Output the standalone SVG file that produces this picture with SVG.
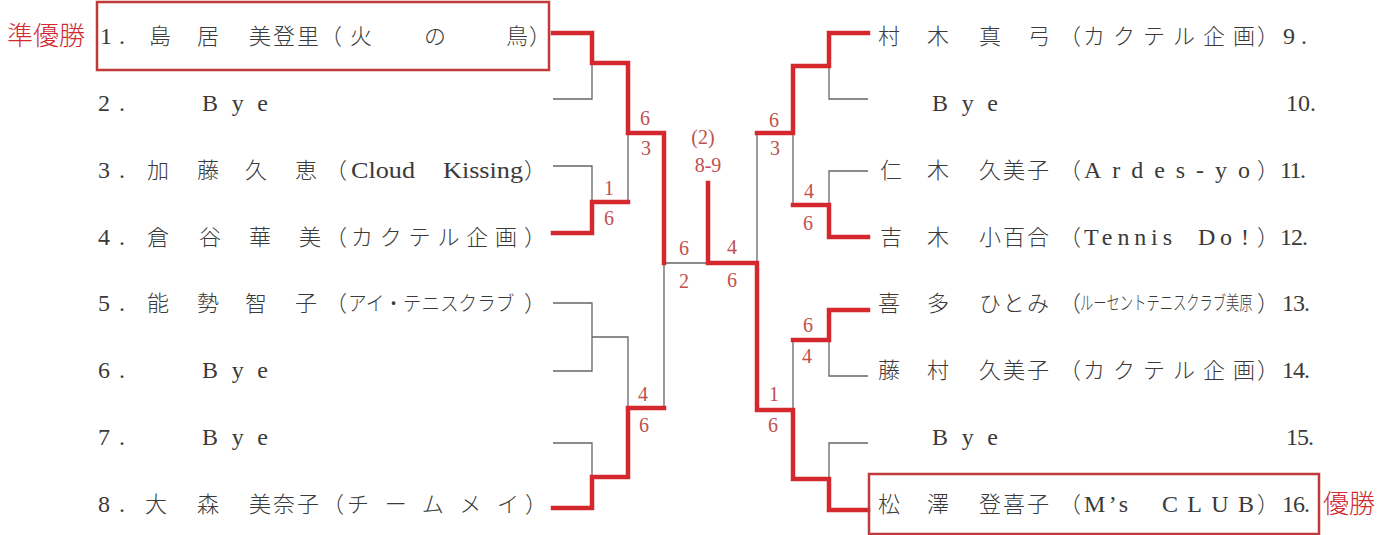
<svg xmlns="http://www.w3.org/2000/svg" width="1394" height="535" viewBox="0 0 1394 535">
<style>
.t{font-family:"Liberation Serif","Noto Sans CJK JP",serif;font-size:23px;fill:#333}
.j{font-family:"Noto Sans CJK JP","Liberation Serif",serif;font-size:22px;fill:#3a3a3a;font-weight:300}
.l{font-family:"Liberation Serif","Noto Sans CJK JP",serif;font-size:24px;fill:#3a3a3a}
.s{font-family:"Liberation Serif",serif;font-size:20px;fill:#c0504d;text-anchor:middle}
.lab{font-family:"Noto Sans CJK JP",serif;font-size:26px;fill:#d02a32;font-weight:300}
.g{fill:none;stroke:#666;stroke-width:1.3}
.r{fill:none;stroke:#d4282e;stroke-width:4.5;stroke-linejoin:miter;stroke-linecap:square}
.box{fill:none;stroke:#c0393b;stroke-width:2.5}
</style>
<rect width="1394" height="535" fill="#fff"/>

<g id="connectors">
<path class="g" d="M553,99 H592 V63"/>
<path class="g" d="M553,166 H592 V202"/>
<path class="g" d="M553,303 H592 V371 H553 M592,337 H628 V408"/>
<path class="g" d="M553,443 H592 V477"/>
<path class="g" d="M628,133 V202"/>
<path class="g" d="M664,408 V263 H708"/>
<path class="g" d="M757,133 V263"/>
<path class="g" d="M868,99 H829 V66"/>
<path class="g" d="M793,133 V205"/>
<path class="g" d="M868,171 H829 V205"/>
<path class="g" d="M868,376 H829 V340"/>
<path class="g" d="M793,340 V410"/>
<path class="g" d="M868,443 H829 V479"/>
<path class="r" d="M553,33 H592 V63 H628 V133 H664 V263"/>
<path class="r" d="M553,233 H592 V202 H628"/>
<path class="r" d="M553,508 H592 V477 H628 V408 H664"/>
<path class="r" d="M708,183 V263 H757 V410 H793 V479 H829 V510 H868"/>
<path class="r" d="M757,133 H793 V66 H829 V33 H868"/>
<path class="r" d="M793,205 H829 V237 H868"/>
<path class="r" d="M793,340 H829 V310 H868"/>
</g>

<g id="scores">
<text class="s" x="645" y="125">6</text><text class="s" x="646" y="155">3</text>
<text class="s" x="609" y="195">1</text><text class="s" x="609" y="225">6</text>
<text class="s" x="643" y="401">4</text><text class="s" x="644" y="432">6</text>
<text class="s" x="684" y="255">6</text><text class="s" x="684" y="288">2</text>
<text class="s" x="732" y="254">4</text><text class="s" x="732" y="287">6</text>
<text class="s" x="703" y="144">(2)</text><text class="s" x="708" y="172">8-9</text>
<text class="s" x="774" y="127">6</text><text class="s" x="775" y="155">3</text>
<text class="s" x="809" y="198">4</text><text class="s" x="808" y="230">6</text>
<text class="s" x="808" y="332">6</text><text class="s" x="807" y="363">4</text>
<text class="s" x="774" y="401">1</text><text class="s" x="773" y="432">6</text>
</g>

<g id="p1">
<rect class="box" x="97" y="2" width="452" height="68"/>
<text class="lab" x="7" y="45">準優勝</text>
<text class="l" x="100" y="44" textLength="25" lengthAdjust="spacing">1.</text>
<text class="j" x="149" y="44">島</text><text class="j" x="197" y="44">居</text>
<text class="j" x="249" y="44" textLength="70" lengthAdjust="spacing">美登里</text>
<text class="j" x="320" y="44">（</text><text class="j" x="350" y="44">火</text>
<text class="j" x="424" y="44">の</text><text class="j" x="506" y="44">鳥</text>
<text class="j" x="529" y="44">）</text>
</g>
<g id="p2">
<text class="l" x="98" y="111" textLength="27" lengthAdjust="spacing">2.</text>
<text class="l" x="202" y="111" textLength="66" lengthAdjust="spacing">Bye</text>
</g>
<g id="p3">
<text class="l" x="98" y="178" textLength="27" lengthAdjust="spacing">3.</text>
<text class="j" x="147" y="178">加</text><text class="j" x="197" y="178">藤</text>
<text class="j" x="245" y="178">久</text><text class="j" x="295" y="178">恵</text>
<text class="j" x="325" y="178">（</text>
<text class="l" x="351" y="178" textLength="64" lengthAdjust="spacingAndGlyphs">Cloud</text>
<text class="l" x="443" y="178" textLength="80" lengthAdjust="spacingAndGlyphs">Kissing</text>
<text class="j" x="524" y="178">）</text>
</g>
<g id="p4">
<text class="l" x="98" y="245" textLength="27" lengthAdjust="spacing">4.</text>
<text class="j" x="147" y="245">倉</text><text class="j" x="199" y="245">谷</text>
<text class="j" x="249" y="245">華</text><text class="j" x="299" y="245">美</text>
<text class="j" x="325" y="245">（</text>
<text class="j" x="351" y="245" textLength="166" lengthAdjust="spacing">カクテル企画</text>
<text class="j" x="524" y="245">）</text>
</g>
<g id="p5">
<text class="l" x="98" y="311" textLength="27" lengthAdjust="spacing">5.</text>
<text class="j" x="147" y="311">能</text><text class="j" x="197" y="311">勢</text>
<text class="j" x="245" y="311">智</text><text class="j" x="295" y="311">子</text>
<text class="j" x="325" y="311">（</text>
<text class="j" transform="translate(348,311) scale(0.93,1)" style="font-size:20px">アイ・テニスクラブ</text>
<text class="j" x="524" y="311">）</text>
</g>
<g id="p6">
<text class="l" x="98" y="378" textLength="27" lengthAdjust="spacing">6.</text>
<text class="l" x="202" y="378" textLength="66" lengthAdjust="spacing">Bye</text>
</g>
<g id="p7">
<text class="l" x="98" y="445" textLength="27" lengthAdjust="spacing">7.</text>
<text class="l" x="202" y="445" textLength="66" lengthAdjust="spacing">Bye</text>
</g>
<g id="p8">
<text class="l" x="98" y="512" textLength="27" lengthAdjust="spacing">8.</text>
<text class="j" x="145" y="512">大</text><text class="j" x="197" y="512">森</text>
<text class="j" x="249" y="512" textLength="70" lengthAdjust="spacing">美奈子</text>
<text class="j" x="322" y="512">（</text>
<text class="j" x="347" y="512" textLength="172" lengthAdjust="spacing">チームメイ</text>
<text class="j" x="525" y="512">）</text>
</g>

<g id="p9">
<text class="j" x="878" y="44">村</text><text class="j" x="927" y="44">木</text>
<text class="j" x="979" y="44">真</text><text class="j" x="1028" y="44">弓</text>
<text class="j" x="1059" y="44">（</text>
<text class="j" x="1083" y="44" textLength="172" lengthAdjust="spacing">カクテル企画</text>
<text class="j" x="1257" y="44">）</text>
<text class="l" x="1283" y="44" textLength="24" lengthAdjust="spacing">9.</text>
</g>
<g id="p10">
<text class="l" x="932" y="111" textLength="66" lengthAdjust="spacing">Bye</text>
<text class="l" x="1286" y="111" textLength="30" lengthAdjust="spacing">10.</text>
</g>
<g id="p11">
<text class="j" x="880" y="178">仁</text><text class="j" x="927" y="178">木</text>
<text class="j" x="979" y="178" textLength="70" lengthAdjust="spacing">久美子</text>
<text class="j" x="1059" y="178">（</text>
<text class="l" x="1084" y="178" textLength="166" lengthAdjust="spacing">Ardes-yo</text>
<text class="j" x="1257" y="178">）</text>
<text class="l" x="1280" y="178" textLength="26" lengthAdjust="spacing">11.</text>
</g>
<g id="p12">
<text class="j" x="880" y="245">吉</text><text class="j" x="927" y="245">木</text>
<text class="j" x="979" y="245" textLength="70" lengthAdjust="spacing">小百合</text>
<text class="j" x="1059" y="245">（</text>
<text class="l" x="1084" y="245" textLength="88" lengthAdjust="spacing">Tennis</text>
<text class="l" x="1198" y="245" textLength="34" lengthAdjust="spacing">Do</text>
<text class="l" x="1241" y="245">!</text>
<text class="j" x="1257" y="245">）</text>
<text class="l" x="1280" y="245" textLength="28" lengthAdjust="spacing">12.</text>
</g>
<g id="p13">
<text class="j" x="878" y="311">喜</text><text class="j" x="927" y="311">多</text>
<text class="j" x="979" y="311" textLength="70" lengthAdjust="spacing">ひとみ</text>
<text class="j" x="1059" y="311">（</text>
<text class="j" transform="translate(1080,310) scale(0.7,1)" style="font-size:19px">ルーセントテニスクラブ美原</text>
<text class="j" x="1257" y="311">）</text>
<text class="l" x="1282" y="311" textLength="28" lengthAdjust="spacing">13.</text>
</g>
<g id="p14">
<text class="j" x="878" y="378">藤</text><text class="j" x="927" y="378">村</text>
<text class="j" x="979" y="378" textLength="70" lengthAdjust="spacing">久美子</text>
<text class="j" x="1059" y="378">（</text>
<text class="j" x="1083" y="378" textLength="172" lengthAdjust="spacing">カクテル企画</text>
<text class="j" x="1257" y="378">）</text>
<text class="l" x="1282" y="378" textLength="28" lengthAdjust="spacing">14.</text>
</g>
<g id="p15">
<text class="l" x="932" y="445" textLength="66" lengthAdjust="spacing">Bye</text>
<text class="l" x="1286" y="445" textLength="28" lengthAdjust="spacing">15.</text>
</g>
<g id="p16">
<rect class="box" x="869" y="474" width="450" height="60"/>
<text class="lab" x="1323" y="513">優勝</text>
<text class="j" x="878" y="512">松</text><text class="j" x="927" y="512">澤</text>
<text class="j" x="979" y="512" textLength="70" lengthAdjust="spacing">登喜子</text>
<text class="j" x="1059" y="512">（</text>
<text class="l" x="1084" y="512" textLength="44" lengthAdjust="spacing">M’s</text>
<text class="l" x="1162" y="512" textLength="92" lengthAdjust="spacing">CLUB</text>
<text class="j" x="1257" y="512">）</text>
<text class="l" x="1282" y="512" textLength="28" lengthAdjust="spacing">16.</text>
</g>
</svg>
